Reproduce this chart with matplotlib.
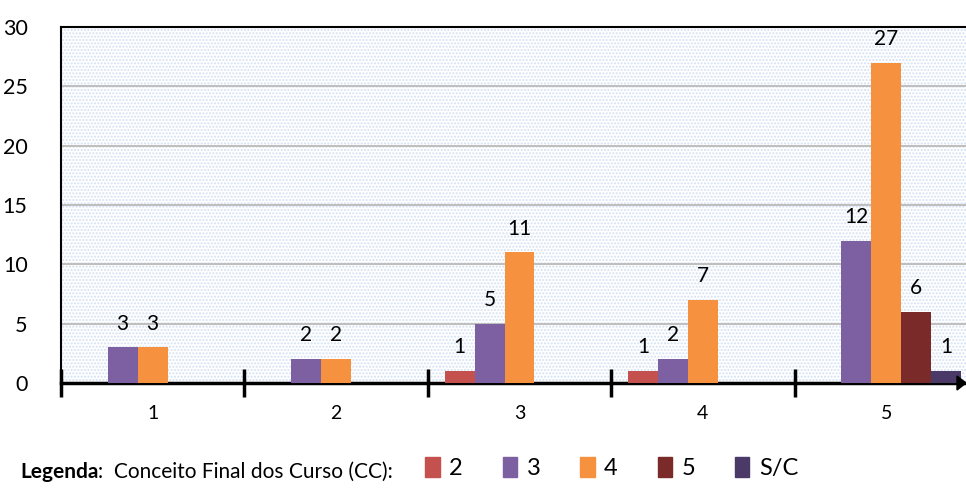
import numpy as np
import matplotlib.pyplot as plt
from matplotlib.patches import Rectangle, Patch

plt.rcParams['font.family'] = ['Lato', 'DejaVu Sans']

categorias = ['1', '2', '3', '4', '5']
series = ['2', '3', '4', '5', 'S/C']
v2 = [0, 0, 1, 1, 0]
v3 = [3, 2, 5, 2, 12]
v4 = [3, 2, 11, 7, 27]
v5 = [0, 0, 0, 0, 6]
vsc = [0, 0, 0, 0, 1]
valores = [v2, v3, v4, v5, vsc]
cores = ['#C4514E', '#7D60A2', '#F6923F', '#7A2B29', '#4B3A68']

fig = plt.figure(figsize=(9.66, 4.92), dpi=100)
ax = fig.add_axes([61/966, 1-383/492, 917/966, 356/492])

# fundo pontilhado
ax.add_patch(Rectangle((0, 0), 1, 1, transform=ax.transAxes, facecolor='white',
                       hatch='.....', edgecolor='#D3E1F3', linewidth=0, zorder=0))

x = np.arange(1, 6)
w = 0.1635
for i, (vals, cor) in enumerate(zip(valores, cores)):
    pos = x + (i - 2) * w
    ax.bar(pos, vals, width=w, color=cor, zorder=3)
    for p, v in zip(pos, vals):
        if v > 0:
            ax.annotate(str(v), (p, v), xytext=(0, 10), textcoords='offset points',
                        ha='center', va='bottom', fontsize=15)

ax.set_xlim(0.5, 5.5)
ax.set_ylim(0, 30)
ax.set_yticks(range(0, 31, 5))
ax.yaxis.grid(True, color='#BFBFBF', linewidth=1.5, zorder=1)
ax.set_axisbelow(True)
ax.tick_params(axis='y', length=0, pad=24, labelsize=15.5)

ax.set_xticks(np.arange(0.5, 6, 1))
ax.set_xticklabels([])
ax.set_xticks(x, minor=True)
ax.set_xticklabels(categorias, minor=True, fontsize=14)
ax.tick_params(axis='x', which='major', direction='inout', length=20, width=2.5)
ax.tick_params(axis='x', which='minor', length=0, pad=16)

ax.spines['right'].set_visible(False)
ax.spines['bottom'].set_linewidth(2.5)
ax.spines['left'].set_linewidth(1.5)
ax.spines['top'].set_linewidth(1.5)

# seta do eixo x
fig.patches.append(plt.Polygon([[957/966, 1-376/492], [966/966, 1-383/492], [957/966, 1-390/492]],
                               closed=True, color='black', transform=fig.transFigure))

t1 = fig.text(20/966, 1-472/492, 'Legenda', fontsize=15, fontweight='bold', va='center')
fig.canvas.draw()
bb = t1.get_window_extent()
fig.text(bb.x1 / 966, 1-472/492, ':  Conceito Final dos Curso (CC):', fontsize=15, va='center')

handles = [Patch(color=c, label=s) for c, s in zip(cores, series)]
fig.legend(handles=handles, loc='center left', bbox_to_anchor=(416/966, 1-468/492),
           ncol=5, frameon=False, fontsize=17, handlelength=0.6, handleheight=0.9,
           handletextpad=0.4, columnspacing=1.7, borderaxespad=0)

fig.savefig('out.png', dpi=100)
